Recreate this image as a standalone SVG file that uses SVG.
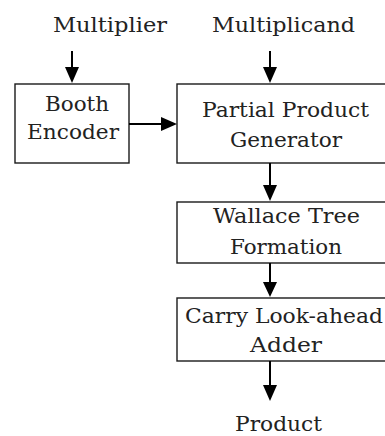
<svg xmlns="http://www.w3.org/2000/svg" width="385" height="436" viewBox="0 0 385 436">
<style>
.box{fill:#fff;stroke:#1a1a1a;stroke-width:1.4}
.t{font-family:"DejaVu Serif","Liberation Serif",serif;font-size:21px;fill:#222}
.c{stroke:#000;stroke-width:2;fill:none}
.h{fill:#000}
</style>
<rect width="385" height="436" fill="#fff"/>
<g id="labels">
<text class="t" x="53" y="32" textLength="114" lengthAdjust="spacingAndGlyphs">Multiplier</text>
<text class="t" x="212" y="32" textLength="143" lengthAdjust="spacingAndGlyphs">Multiplicand</text>
<text class="t" x="235" y="431" textLength="87" lengthAdjust="spacingAndGlyphs">Product</text>
</g>
<g id="booth">
<rect class="box" x="15" y="84" width="114" height="79"/>
<text class="t" x="45" y="111" textLength="64" lengthAdjust="spacingAndGlyphs">Booth</text>
<text class="t" x="27" y="139" textLength="92" lengthAdjust="spacingAndGlyphs">Encoder</text>
</g>
<g id="ppg">
<rect class="box" x="177" y="84" width="220" height="79"/>
<text class="t" x="202" y="117" textLength="167" lengthAdjust="spacingAndGlyphs">Partial Product</text>
<text class="t" x="230" y="147" textLength="112" lengthAdjust="spacingAndGlyphs">Generator</text>
</g>
<g id="wallace">
<rect class="box" x="177" y="202" width="220" height="61"/>
<text class="t" x="213" y="223" textLength="147" lengthAdjust="spacingAndGlyphs">Wallace Tree</text>
<text class="t" x="230" y="254" textLength="112" lengthAdjust="spacingAndGlyphs">Formation</text>
</g>
<g id="cla">
<rect class="box" x="177" y="298" width="220" height="63"/>
<text class="t" x="185" y="323" textLength="198" lengthAdjust="spacingAndGlyphs">Carry Look-ahead</text>
<text class="t" x="250" y="352" textLength="72" lengthAdjust="spacingAndGlyphs">Adder</text>
</g>
<g id="connectors">
<line class="c" x1="72" y1="51" x2="72" y2="70"/>
<polygon class="h" points="65,67 79,67 72,83"/>
<line class="c" x1="270" y1="51" x2="270" y2="70"/>
<polygon class="h" points="263,67 277,67 270,83"/>
<line class="c" x1="129" y1="124" x2="164" y2="124"/>
<polygon class="h" points="161,117 161,131 177,124"/>
<line class="c" x1="270" y1="163" x2="270" y2="188"/>
<polygon class="h" points="263,185 277,185 270,201"/>
<line class="c" x1="270" y1="263" x2="270" y2="285"/>
<polygon class="h" points="263,282 277,282 270,297"/>
<line class="c" x1="270" y1="361" x2="270" y2="387"/>
<polygon class="h" points="263,385 277,385 270,401"/>
</g>
</svg>
